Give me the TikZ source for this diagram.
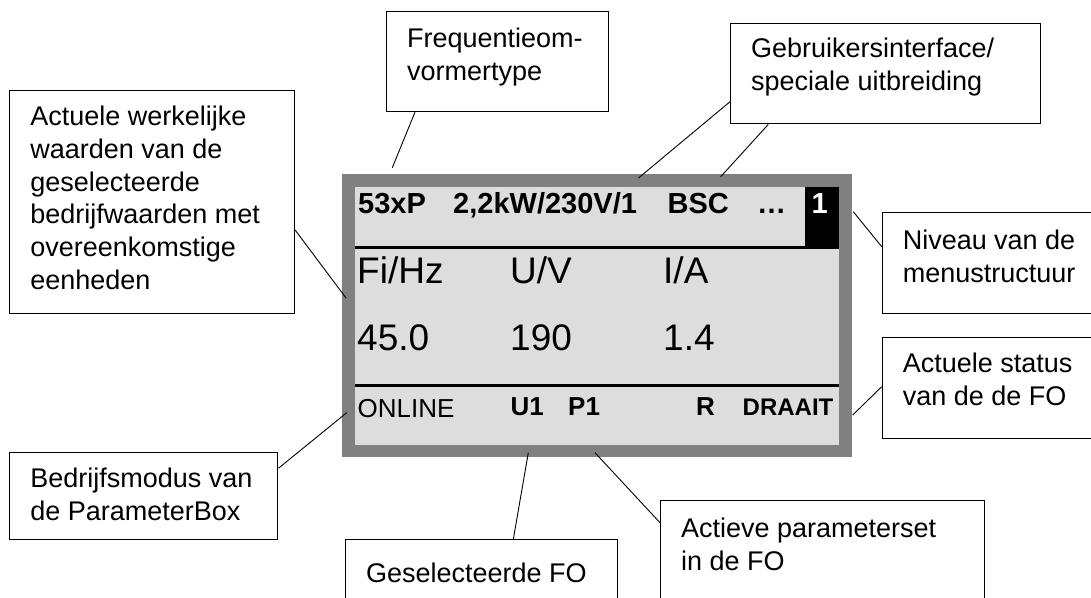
\documentclass[tikz,border=0pt]{standalone}
\usepackage{fontspec}
\setmainfont{Liberation Sans}
\usetikzlibrary{calc}
\definecolor{framegray}{RGB}{128,128,128}
\definecolor{lcdgray}{RGB}{221,221,221}
\newcommand\cbox[4]{\parbox[c][#2pt][t]{#1pt}{\raggedright\hyphenpenalty=10000\exhyphenpenalty=10000\rule{0pt}{#3pt}#4}}
\begin{document}
\begin{tikzpicture}[x=1pt,y=-1pt,
  callout/.style={draw=black, line width=1.1pt, fill=white, inner xsep=20.5pt, inner ysep=0pt,
    anchor=north west, font=\fontsize{27}{32.8}\selectfont},
  lead/.style={draw=black, line width=0.9pt},
  disp/.style={inner sep=0pt, anchor=base west},
  toprow/.style={disp, font=\fontsize{29}{29}\selectfont\bfseries},
  big/.style={disp, font=\fontsize{37}{37}\selectfont},
  stat/.style={disp, font=\fontsize{26}{26}\selectfont},
  statb/.style={disp, font=\fontsize{26}{26}\selectfont\bfseries},
  statsm/.style={disp, font=\fontsize{24}{24}\selectfont\bfseries}]
\useasboundingbox (0,0) rectangle (1091,597);
% display
\fill[framegray] (341.5,173.5) rectangle (851.7,457.3);
\fill[lcdgray] (355,186.5) rectangle (838.5,445);
\fill[black] (804.5,186.5) rectangle (838.5,249);
\fill[black] (355,245.5) rectangle (838.5,249);
\fill[black] (355,383.5) rectangle (838.5,387);
% display texts
\node[toprow] (t1) at (358,213.5) {53xP};
\node[toprow] (t2) at (453,213.5) {2,2kW/230V/1};
\node[toprow] (t3) at (667.5,213.5) {BSC};
\node[toprow] (t4) at (757,213.5) {…};
\node[toprow, text=white] (t5) at (811.5,213.5) {1};
\node[big] (c1) at (357,283) {Fi/Hz};
\node[big] (c2) at (510,283) {U/V};
\node[big] (c3) at (663,283) {I/A};
\node[big] (v1) at (357,350.5) {45.0};
\node[big] (v2) at (510,350.5) {190};
\node[big] (v3) at (663,350.5) {1.4};
\node[stat] (s1) at (357.5,417) {ONLINE};
\node[statb] (s2) at (510.5,415) {U1};
\node[statb] (s3) at (568,415) {P1};
\node[statb] (s4) at (696,415) {R};
\node[statsm] (s5) at (742.5,415) {DRAAIT};
% callouts
\node[callout] (fq) at (386,11) {\cbox{180.7}{100}{35.7}{Frequentieom-\\vormertype}};
\node[callout] (gb) at (730,23.3) {\cbox{269}{100}{34}{Gebruikersinterface/\\speciale uitbreiding}};
\node[callout] (aw) at (9.3,90) {\cbox{243.7}{222.7}{35}{Actuele werkelijke\\waarden van de\\geselecteerde\\bedrijfwaarden met\\overeenkomstige\\eenheden}};
\node[callout] (nv) at (881.7,211.7) {\cbox{172.3}{101.6}{37}{Niveau van de\\menustructuur}};
\node[callout] (st) at (881.7,337.3) {\cbox{172.3}{101}{35}{Actuele status\\van de de FO}};
\node[callout] (bm) at (9.3,451.7) {\cbox{227}{87.6}{35}{Bedrijfsmodus van\\de ParameterBox}};
\node[callout] (gs) at (345,539.3) {\cbox{231.3}{80}{43}{Geselecteerde FO}};
\node[callout] (ap) at (660,500) {\cbox{283.3}{120}{36.7}{Actieve parameterset\\in de FO}};
% connector ends on the display
\coordinate (e-fq) at (392.3,167.7);
\coordinate (e-gb1) at (638.5,178);
\coordinate (e-gb2) at (720.7,176.7);
\coordinate (e-aw) at (346,298);
\coordinate (e-nv) at (853.3,211.7);
\coordinate (e-st) at (852.7,415);
\coordinate (e-bm) at (346.7,412.7);
\coordinate (e-gs) at (528.3,452.7);
\coordinate (e-ap) at (595,452.7);
% connectors
\draw[lead] ($(fq.south west)+(29,0)$) -- (e-fq);
\draw[lead] ($(gb.north west)+(0,78.4)$) -- (e-gb1);
\draw[lead] ($(gb.south west)+(38.3,0)$) -- (e-gb2);
\draw[lead] ($(aw.north east)+(0,140)$) -- (e-aw);
\draw[lead] ($(nv.north west)+(0,35)$) -- (e-nv);
\draw[lead] ($(st.north west)+(0,49.4)$) -- (e-st);
\draw[lead] ($(bm.north east)+(0,16.6)$) -- (e-bm);
\draw[lead] ($(gs.north west)+(168.3,0)$) -- (e-gs);
\draw[lead] ($(ap.north west)+(0,22.7)$) -- (e-ap);
\end{tikzpicture}
\end{document}
